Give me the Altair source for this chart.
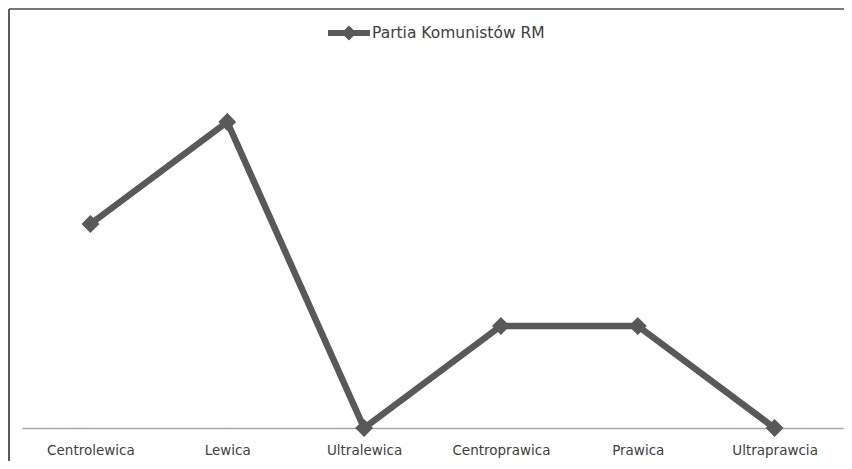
import altair as alt
import pandas as pd

categories = ["Centrolewica", "Lewica", "Ultralewica", "Centroprawica", "Prawica", "Ultraprawcia"]
values = [2, 3, 0, 1, 1, 0]
series_name = "Partia Komunistów RM"

df = pd.DataFrame({"kategoria": categories, "wartosc": values, "seria": [series_name] * len(categories)})

LINE = "#595959"
legend_path = ("M-1,-0.14L1,-0.14L1,0.14L-1,0.14Z"
               "M0,-0.36L0.36,0L0,0.36L-0.36,0Z")

x_enc = alt.X("kategoria:N", sort=categories, title=None,
              scale=alt.Scale(paddingInner=0, paddingOuter=0.5),
              axis=alt.Axis(labelAngle=0, ticks=False, labelPadding=15, domainColor="#a6a6a6",
                            domainWidth=1.5, labelColor="#404040", labelFontSize=13.5,
                            labelFont="DejaVu Sans", grid=False))
y_enc = alt.Y("wartosc:Q", scale=alt.Scale(domain=[0, 4]), axis=None)

color_enc = alt.Color("seria:N", scale=alt.Scale(range=[LINE]),
                      legend=alt.Legend(title=None, orient="none", legendX=306, legendY=-8,
                                        symbolType=legend_path, symbolSize=1764,
                                        symbolFillColor=LINE, symbolStrokeWidth=0,
                                        labelFontSize=15.5, labelColor="#404040",
                                        labelFont="DejaVu Sans", labelOffset=2, labelLimit=400))

line = alt.Chart(df).mark_line(strokeWidth=6.5, color=LINE).encode(x=x_enc, y=y_enc, color=color_enc)
pts = alt.Chart(df).mark_point(shape="diamond", filled=True, size=320, opacity=1, color=LINE).encode(
    x=x_enc, y=y_enc)

frame_df = pd.DataFrame({"k": [0]})
left_border = alt.Chart(frame_df).mark_rule(color="#222222", strokeWidth=1.5).encode(
    x=alt.value(-13), y=alt.value(-11), y2=alt.value(449))
top_border = alt.Chart(frame_df).mark_rule(color="#777777", strokeWidth=2).encode(
    x=alt.value(-13), x2=alt.value(840), y=alt.value(-11))

chart = alt.layer(line, pts, left_border, top_border).properties(
    width=821, height=408,
    padding={"left": 14, "top": 12, "right": 1, "bottom": 33},
    autosize=alt.AutoSizeParams(type="none"),
    background="white",
).configure_view(stroke=None)

chart.save("out.html", embed_options={"renderer": "svg", "actions": False})
